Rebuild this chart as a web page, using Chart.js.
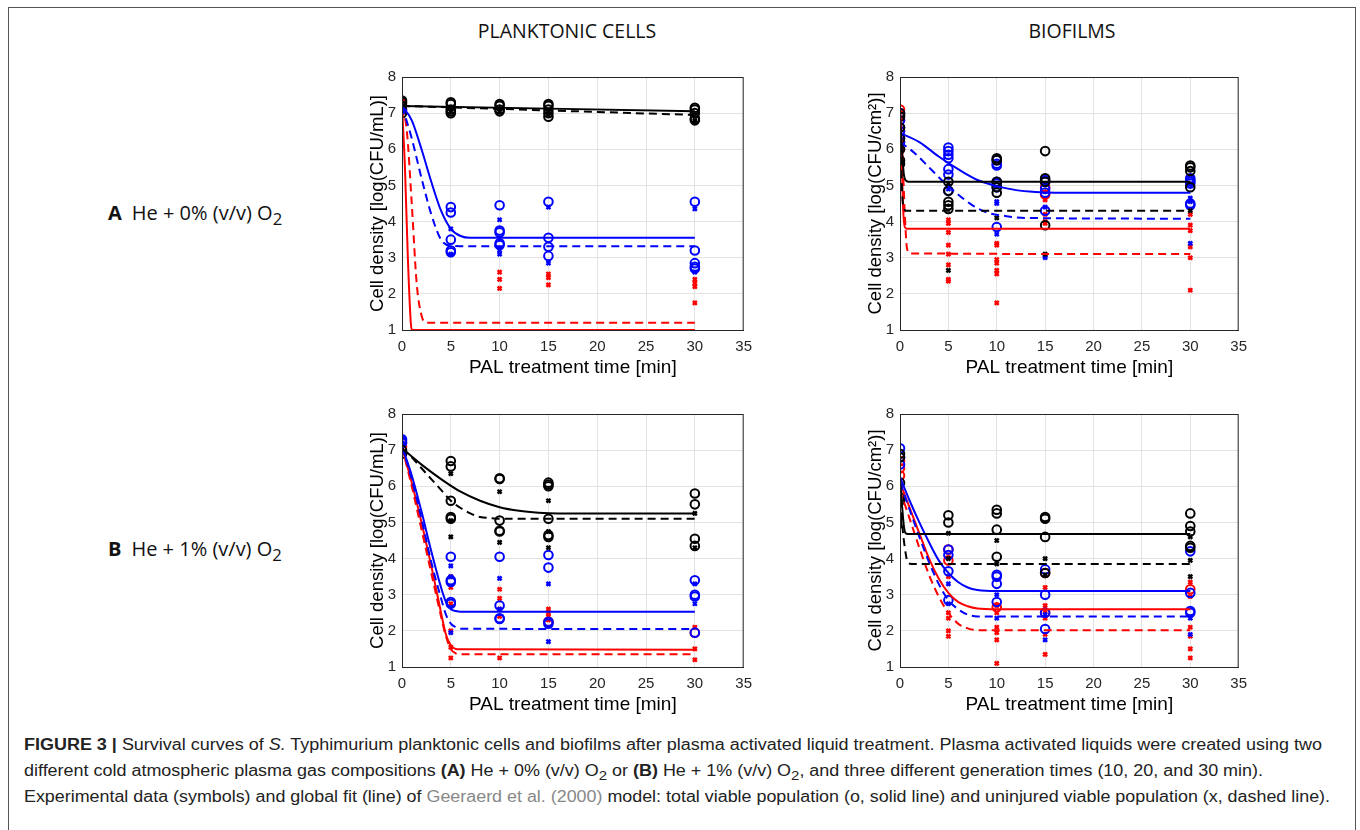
<!DOCTYPE html>
<html>
<head>
<meta charset="utf-8">
<script src="https://cdn.jsdelivr.net/npm/chart.js@4/dist/chart.umd.min.js"></script>
<style>
  body { margin: 0; background: #fff; }
  #fig { position: relative; width: 1360px; height: 830px; overflow: hidden; font-family: "Liberation Sans", Arial, sans-serif; }
  .frame { position: absolute; left: 8px; top: 7px; width: 1346px; height: 900px; border: 1px solid #555; }
  canvas { position: absolute; }
  .col { position: absolute; top: 17px; font-family: "Open Sans", sans-serif; font-size: 19.5px; color: #111; transform: translateX(-50%); white-space: nowrap; }
  .row { position: absolute; left: 108px; font-family: "Open Sans", sans-serif; font-size: 20px; color: #111; white-space: nowrap; }
  .row b { margin-right: 10px; }
  .cap { position: absolute; left: 24px; top: 732px; font-size: 16px; line-height: 26px; color: #222; }
  .cap div { white-space: nowrap; transform-origin: 0 50%; height: 26px; }
  .cap sub { line-height: 0; }
  .cap a { color: #888; text-decoration: none; }
</style>
</head>
<body>
<div id="fig">
  <div class="frame"></div>
  <div class="col" style="left:567px">PLANKTONIC CELLS</div>
  <div class="col" style="left:1072px">BIOFILMS</div>
  <div class="row" style="top:199px"><b>A</b>He + 0% (v/v) O<sub>2</sub></div>
  <div class="row" style="top:535px"><b>B</b>He + 1% (v/v) O<sub>2</sub></div>
  <canvas id="c1" width="410" height="319" style="left:350px;top:62px"></canvas>
  <canvas id="c2" width="407" height="319" style="left:848px;top:62px"></canvas>
  <canvas id="c3" width="410" height="319" style="left:350px;top:399px"></canvas>
  <canvas id="c4" width="407" height="319" style="left:848px;top:399px"></canvas>
  <div class="cap">
    <div data-w="1298"><b>FIGURE 3 |</b> Survival curves of <i>S.</i> Typhimurium planktonic cells and biofilms after plasma activated liquid treatment. Plasma activated liquids were created using two</div>
    <div data-w="1239">different cold atmospheric plasma gas compositions <b>(A)</b> He + 0% (v/v) O<sub>2</sub> or <b>(B)</b> He + 1% (v/v) O<sub>2</sub>, and three different generation times (10, 20, and 30 min).</div>
    <div data-w="1306">Experimental data (symbols) and global fit (line) of <a>Geeraerd et al. (2000)</a> model: total viable population (o, solid line) and uninjured viable population (x, dashed line).</div>
  </div>
</div>
<script>
// [time (min), log density] pairs
// A, planktonic
const aPlk_blackO = [[0,7.35],[0,7.3],[0,7.2],[0,7.0],[5,7.3],[5,7.25],[5,7.1],[5,7.05],[5,7.0],[10,7.25],[10,7.2],[10,7.1],[10,7.05],[15,7.25],[15,7.2],[15,7.1],[15,7.0],[15,6.9],[30,7.15],[30,7.1],[30,7.0],[30,6.85],[30,6.8]];
const aPlk_blackX = [[0,7.2],[0,7.1],[5,7.1],[5,7.05],[10,7.1],[10,7.05],[15,7.0],[15,6.95],[30,6.8],[30,6.75]];
const aPlk_blackFit = [[0,7.2],[30,7.05]];
const aPlk_blackFitU = [[0,7.2],[30,6.95]];
const aPlk_blueO = [[0,7.2],[0,7.1],[5,4.4],[5,4.25],[5,3.5],[5,3.2],[5,3.15],[10,4.45],[10,3.75],[10,3.7],[10,3.4],[10,3.35],[15,4.55],[15,3.55],[15,3.3],[15,3.05],[30,4.55],[30,3.2],[30,2.85],[30,2.75],[30,2.7]];
const aPlk_blueX = [[5,3.8],[5,3.1],[10,4.05],[10,3.2],[10,3.1],[15,4.4],[15,2.85],[30,4.35],[30,2.6]];
const aPlk_blueFit = [[0,7.2],[1,6.8],[2,6.0],[3,5.1],[4,4.3],[5,3.8],[6,3.6],[7,3.55],[30,3.55]];
const aPlk_blueFitU = [[0,7.2],[1,6.3],[2,5.2],[3,4.2],[4,3.5],[5,3.33],[6,3.32],[30,3.32]];
const aPlk_redO = [[0,7.25],[0,7.1]];
const aPlk_redX = [[0,7.2],[0,7.0],[10,2.6],[10,2.4],[10,2.15],[15,2.55],[15,2.45],[15,2.25],[30,2.4],[30,2.3],[30,2.2],[30,1.75]];
const aPlk_redFit = [[0,7.2],[0.3,5.5],[0.6,3.0],[0.9,1.2],[1,1.0],[30,1.0]];
const aPlk_redFitU = [[0,7.2],[0.5,6.5],[1,4.5],[1.5,2.3],[2,1.4],[2.5,1.2],[30,1.2]];

// A, biofilms
const aBio_blackO = [[0,7.0],[0,6.9],[0,6.6],[0,6.3],[0,6.0],[0,5.7],[0,5.6],[5,5.1],[5,4.85],[5,4.55],[5,4.45],[5,4.35],[10,5.75],[10,5.7],[10,5.1],[10,4.95],[10,4.8],[15,5.95],[15,5.2],[15,5.1],[15,3.9],[30,5.55],[30,5.5],[30,5.4],[30,4.95]];
const aBio_blackX = [[0,5.0],[0,5.6],[5,2.65],[5,5.05],[10,4.1],[15,3.1],[30,4.3]];
const aBio_blackFit = [[0,6.9],[0.2,6.0],[0.4,5.3],[0.7,5.12],[1,5.1],[30,5.1]];
const aBio_blackFitU = [[0,6.5],[0.3,4.5],[0.6,4.3],[30,4.3]];
const aBio_blueO = [[0,7.0],[0,6.8],[0,6.6],[0,6.5],[0,6.3],[0,6.2],[5,6.05],[5,5.95],[5,5.85],[5,5.75],[5,5.45],[5,5.3],[5,4.85],[10,5.7],[10,5.6],[10,5.55],[10,5.1],[10,5.05],[10,4.95],[10,3.85],[15,5.15],[15,5.1],[15,4.9],[15,4.8],[15,4.3],[30,5.2],[30,5.15],[30,5.1],[30,5.05],[30,4.5],[30,4.45]];
const aBio_blueX = [[0,6.1],[0,5.4],[5,4.9],[10,4.55],[10,4.5],[10,3.65],[15,4.4],[15,3.05],[15,3.0],[30,4.65],[30,4.55],[30,3.4]];
const aBio_blueFit = [[0,6.45],[2,6.2],[4,5.8],[6,5.45],[8,5.15],[10,4.98],[12,4.87],[14,4.82],[16,4.8],[30,4.8]];
const aBio_blueFitU = [[0,6.2],[1.5,5.9],[3,5.5],[4.5,5.1],[6,4.75],[7.5,4.45],[9,4.25],[11,4.15],[13,4.1],[30,4.08]];
const aBio_redO = [[0,7.1],[0,6.95],[0,6.8],[0,6.5],[0,6.2],[0,6.0],[15,4.95],[15,4.75]];
const aBio_redX = [[0,7.05],[0,6.6],[0,6.3],[0,5.8],[5,4.05],[5,3.95],[5,3.7],[5,3.35],[5,3.1],[5,2.8],[5,2.4],[5,2.35],[10,3.4],[10,3.35],[10,2.95],[10,2.85],[10,2.65],[10,2.55],[10,1.75],[15,4.6],[15,4.2],[15,4.0],[15,3.95],[30,4.2],[30,3.9],[30,3.75],[30,3.3],[30,3.0],[30,2.1]];
const aBio_redFit = [[0,7.0],[0.15,6.0],[0.3,4.5],[0.5,3.85],[0.7,3.8],[30,3.8]];
const aBio_redFitU = [[0,7.0],[0.3,5.5],[0.5,4.2],[0.7,3.3],[1,3.12],[30,3.1]];

// B, planktonic
const bPlk_blackO = [[0,7.0],[0,6.9],[5,6.7],[5,6.55],[5,5.6],[5,5.15],[5,5.1],[10,6.2],[10,6.22],[10,5.05],[10,4.75],[10,4.77],[15,6.1],[15,6.05],[15,6.0],[15,5.1],[15,4.65],[15,4.6],[30,5.8],[30,5.5],[30,4.55],[30,4.35]];
const bPlk_blackX = [[5,6.35],[5,5.05],[5,4.6],[10,5.85],[10,4.45],[15,5.6],[15,4.75],[15,4.3],[30,5.25],[30,4.3]];
const bPlk_blackFit = [[0,7.05],[2,6.6],[4,6.2],[6,5.85],[8,5.6],[10,5.42],[12,5.32],[14,5.27],[16,5.25],[30,5.25]];
const bPlk_blackFitU = [[0,7.05],[1,6.8],[2,6.5],[3,6.2],[4,5.9],[5,5.6],[6,5.4],[7,5.25],[8,5.15],[9,5.12],[10,5.1],[30,5.1]];
const bPlk_blueO = [[0,7.3],[0,7.25],[0,7.2],[5,4.05],[5,3.4],[5,3.35],[5,2.8],[5,2.75],[10,4.05],[10,2.7],[10,2.35],[10,2.33],[15,4.1],[15,3.75],[15,2.25],[15,2.2],[30,3.4],[30,3.0],[30,2.95],[30,1.95]];
const bPlk_blueX = [[0,7.2],[5,3.8],[5,3.5],[5,1.95],[10,3.45],[10,2.6],[15,3.3],[15,1.7],[30,3.3],[30,2.75]];
const bPlk_blueFit = [[0,7.1],[1,6.3],[2,5.3],[3,4.2],[4,3.2],[4.5,2.8],[5,2.6],[5.5,2.55],[6,2.53],[30,2.53]];
const bPlk_blueFitU = [[0,7.1],[1,6.2],[2,5.1],[3,3.9],[4,2.9],[4.5,2.45],[5,2.2],[5.5,2.1],[6,2.06],[30,2.05]];
const bPlk_redO = [[0,7.2],[0,7.1],[15,2.25],[30,1.95]];
const bPlk_redX = [[0,7.15],[5,3.5],[5,3.2],[5,2.75],[5,2.0],[5,1.55],[5,1.25],[10,3.15],[10,2.9],[10,2.6],[10,2.4],[10,1.25],[15,2.6],[15,2.5],[15,2.4],[15,2.3],[30,2.1],[30,1.5],[30,1.2]];
const bPlk_redFit = [[0,7.1],[1,6.1],[2,5.0],[3,3.8],[4,2.5],[4.5,1.9],[5,1.6],[5.5,1.5],[6,1.49],[30,1.48]];
const bPlk_redFitU = [[0,7.1],[1,6.0],[2,4.8],[3,3.6],[4,2.4],[4.5,1.85],[5,1.5],[5.5,1.38],[6,1.35],[30,1.35]];

// B, biofilms
const bBio_blackO = [[0,6.9],[0,6.8],[0,6.1],[0,5.7],[0,5.6],[5,5.2],[5,5.0],[10,5.35],[10,5.25],[10,4.8],[10,4.05],[15,5.15],[15,5.1],[15,4.6],[15,3.6],[30,5.25],[30,4.9],[30,4.75],[30,4.35],[30,4.3]];
const bBio_blackX = [[0,5.0],[0,4.9],[5,4.7],[5,4.0],[10,4.5],[10,3.85],[15,4.0],[15,3.55],[30,4.6],[30,3.95],[30,3.5]];
const bBio_blackFit = [[0,6.2],[0.2,5.5],[0.4,4.9],[0.6,4.7],[1,4.68],[30,4.68]];
const bBio_blackFitU = [[0,6.0],[0.25,4.9],[0.5,4.3],[0.8,3.9],[1.2,3.85],[30,3.85]];
const bBio_blueO = [[0,7.05],[0,6.8],[0,6.6],[5,4.25],[5,4.1],[5,3.65],[5,2.85],[10,3.55],[10,3.5],[10,3.3],[10,2.8],[15,3.7],[15,3.0],[15,2.5],[15,2.05],[30,4.2],[30,3.05],[30,2.55],[30,2.5]];
const bBio_blueX = [[5,3.3],[5,2.75],[10,3.0],[10,2.35],[15,2.45],[15,1.75],[30,2.35],[30,1.9]];
const bBio_blueFit = [[0,6.25],[1,5.6],[2,5.0],[3,4.45],[4,3.95],[5,3.6],[6,3.35],[7,3.2],[8,3.13],[10,3.1],[30,3.1]];
const bBio_blueFitU = [[0,6.1],[1,5.35],[2,4.6],[3,3.9],[4,3.3],[5,2.85],[6,2.6],[7,2.45],[8,2.4],[30,2.4]];
const bBio_redO = [[0,6.7],[0,6.5],[0,6.3],[5,4.25],[5,3.95],[10,2.65],[15,3.6],[15,2.5],[30,3.15]];
const bBio_redX = [[0,6.0],[0,5.6],[5,3.5],[5,2.5],[5,2.35],[5,2.0],[5,1.85],[10,2.7],[10,2.5],[10,2.1],[10,1.95],[10,1.75],[10,1.1],[15,3.2],[15,2.7],[15,2.55],[15,2.35],[15,1.9],[15,1.35],[30,3.35],[30,2.95],[30,2.1],[30,1.85],[30,1.5],[30,1.25]];
const bBio_redFit = [[0,6.1],[1,5.4],[2,4.7],[3,4.0],[4,3.45],[5,3.05],[6,2.8],[7,2.68],[8,2.62],[10,2.6],[30,2.6]];
const bBio_redFitU = [[0,5.9],[1,5.1],[2,4.3],[3,3.55],[4,2.95],[5,2.5],[6,2.2],[7,2.07],[8,2.02],[30,2.02]];

const xTitle = 'PAL treatment time [min]';
const yTitleMl = 'Cell density [log(CFU/mL)]';
const yTitleCm = 'Cell density [log(CFU/cm²)]';

const BLACK = '#000000', BLUE = '#0000ff', RED = '#ff0000';

function pts(data, color, cross) {
  return {
    data: data.map(p => ({x: p[0], y: p[1]})),
    showLine: false,
    pointStyle: cross ? 'crossRot' : 'circle',
    pointRadius: cross ? 2.8 : 4.3,
    pointBorderWidth: cross ? 2.4 : 2,
    pointBorderColor: color,
    pointBackgroundColor: 'rgba(0,0,0,0)',
    order: 2
  };
}
function fit(data, color, dashed) {
  return {
    data: data.map(p => ({x: p[0], y: p[1]})),
    showLine: true,
    borderColor: color,
    borderWidth: 2,
    borderDash: dashed ? [8, 5] : [],
    pointRadius: 0,
    cubicInterpolationMode: 'monotone',
    fill: false,
    order: 1
  };
}

const boxPlugin = {
  id: 'box',
  afterDraw(chart) {
    const a = chart.chartArea, ctx = chart.ctx;
    ctx.save();
    ctx.strokeStyle = '#262626';
    ctx.lineWidth = 1;
    ctx.strokeRect(a.left + 0.5, a.top + 0.5, a.right - a.left - 1, a.bottom - a.top);
    ctx.restore();
  }
};

function panel(id, yTitle, sets) {
  new Chart(document.getElementById(id), {
    type: 'scatter',
    data: { datasets: sets },
    options: {
      responsive: false,
      animation: false,
      layout: { padding: { top: 10, right: 12 } },
      plugins: { legend: { display: false }, tooltip: { enabled: false } },
      scales: {
        x: {
          min: 0, max: 35,
          ticks: { stepSize: 5, color: '#262626', font: { size: 15, family: 'Liberation Sans' }, padding: 8, maxRotation: 0 },
          grid: { color: '#e2e2e2', drawTicks: false },
          border: { color: '#262626' },
          title: { display: true, text: xTitle, color: '#000', font: { size: 19, family: 'Liberation Sans' }, padding: { top: 2, bottom: 2 } },
          afterFit(s) { s.height = 51; }
        },
        y: {
          min: 1, max: 8,
          ticks: { stepSize: 1, color: '#262626', font: { size: 15, family: 'Liberation Sans' }, padding: 6 },
          grid: { color: '#e2e2e2', drawTicks: false },
          border: { color: '#262626' },
          title: { display: true, text: yTitle, color: '#000', font: { size: 18.5, family: 'Liberation Sans' }, padding: { top: 17, bottom: 17 } },
          afterFit(s) { s.width = 52; }
        }
      }
    },
    plugins: [boxPlugin]
  });
}

function sets(bO, bX, bF, bFU, uO, uX, uF, uFU, rO, rX, rF, rFU) {
  return [
    pts(bO, BLACK, false), pts(bX, BLACK, true), fit(bF, BLACK, false), fit(bFU, BLACK, true),
    pts(uO, BLUE, false), pts(uX, BLUE, true), fit(uF, BLUE, false), fit(uFU, BLUE, true),
    pts(rO, RED, false), pts(rX, RED, true), fit(rF, RED, false), fit(rFU, RED, true)
  ];
}

panel('c1', yTitleMl, sets(aPlk_blackO, aPlk_blackX, aPlk_blackFit, aPlk_blackFitU, aPlk_blueO, aPlk_blueX, aPlk_blueFit, aPlk_blueFitU, aPlk_redO, aPlk_redX, aPlk_redFit, aPlk_redFitU));
panel('c2', yTitleCm, sets(aBio_blackO, aBio_blackX, aBio_blackFit, aBio_blackFitU, aBio_blueO, aBio_blueX, aBio_blueFit, aBio_blueFitU, aBio_redO, aBio_redX, aBio_redFit, aBio_redFitU));
panel('c3', yTitleMl, sets(bPlk_blackO, bPlk_blackX, bPlk_blackFit, bPlk_blackFitU, bPlk_blueO, bPlk_blueX, bPlk_blueFit, bPlk_blueFitU, bPlk_redO, bPlk_redX, bPlk_redFit, bPlk_redFitU));
panel('c4', yTitleCm, sets(bBio_blackO, bBio_blackX, bBio_blackFit, bBio_blackFitU, bBio_blueO, bBio_blueX, bBio_blueFit, bBio_blueFitU, bBio_redO, bBio_redX, bBio_redFit, bBio_redFitU));

// stretch each caption line to the width it has in the figure
document.querySelectorAll('.cap div').forEach(el => {
  el.style.display = 'inline-block';
  const w = el.getBoundingClientRect().width;
  el.style.display = 'block';
  el.style.transform = 'scaleX(' + (+el.dataset.w / w) + ')';
});
</script>
</body>
</html>
